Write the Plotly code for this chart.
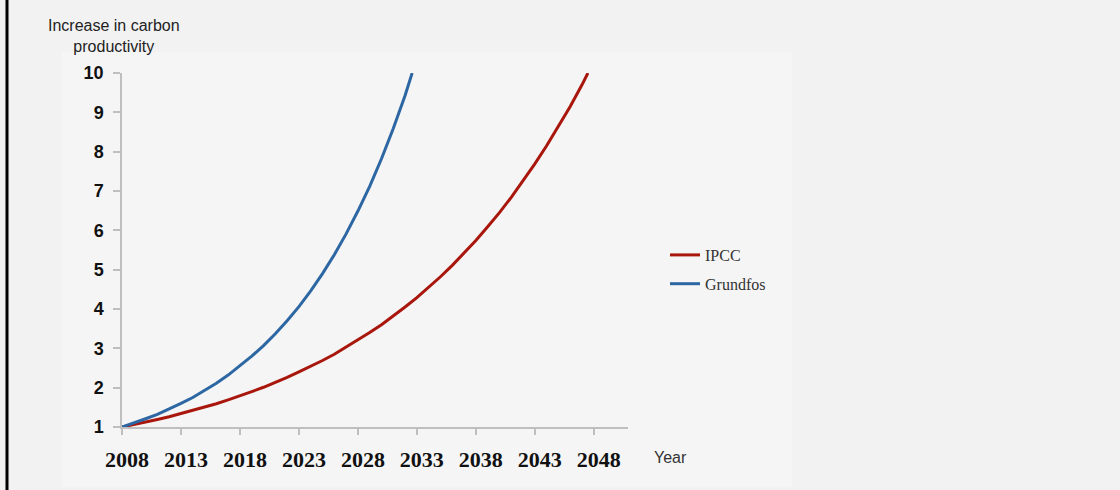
import plotly.graph_objects as go

# Data
years_grundfos = [2008, 2009, 2010, 2011, 2012, 2013, 2014, 2015, 2016, 2017, 2018, 2019, 2020,
                  2021, 2022, 2023, 2024, 2025, 2026, 2027, 2028, 2029, 2030, 2031, 2032, 2032.6]
grundfos = [1.00, 1.10, 1.21, 1.32, 1.45, 1.60, 1.75, 1.92, 2.11, 2.32, 2.55, 2.80, 3.07,
            3.37, 3.70, 4.06, 4.46, 4.90, 5.38, 5.91, 6.49, 7.12, 7.82, 8.59, 9.43, 10.0]

years_ipcc = [2008, 2009, 2010, 2011, 2012, 2013, 2014, 2015, 2016, 2017, 2018, 2019, 2020,
              2021, 2022, 2023, 2024, 2025, 2026, 2027, 2028, 2029, 2030, 2031, 2032, 2033,
              2034, 2035, 2036, 2037, 2038, 2039, 2040, 2041, 2042, 2043, 2044, 2045, 2046,
              2047, 2047.5]
ipcc = [1.00, 1.06, 1.12, 1.19, 1.26, 1.34, 1.42, 1.50, 1.59, 1.69, 1.79, 1.90, 2.01,
        2.13, 2.26, 2.40, 2.54, 2.69, 2.85, 3.03, 3.21, 3.40, 3.60, 3.82, 4.05, 4.29,
        4.55, 4.82, 5.11, 5.42, 5.74, 6.09, 6.45, 6.84, 7.25, 7.69, 8.15, 8.64, 9.15,
        9.70, 10.0]

x_ticks = [2008, 2013, 2018, 2023, 2028, 2033, 2038, 2043, 2048]
y_ticks = [1, 2, 3, 4, 5, 6, 7, 8, 9, 10]

W, H = 1120, 490
L, R, T, B = 122, 492, 73, 63
PW, PH = W - L - R, H - T - B


def px_x(p):
    return (p - L) / PW


def px_y(p):
    return (H - B - p) / PH


fig = go.Figure()
fig.add_trace(go.Scatter(x=years_ipcc, y=ipcc, mode="lines", name="IPCC", legendgroup="ipcc",
                         line=dict(color="#a8160c", width=3)))
fig.add_trace(go.Scatter(x=years_grundfos, y=grundfos, mode="lines", name="Grundfos",
                         legendgroup="grundfos", line=dict(color="#2d67a3", width=3)))

fig.update_layout(
    width=W, height=H, autosize=False,
    margin=dict(l=L, r=R, t=T, b=B),
    paper_bgcolor="#f2f2f2",
    plot_bgcolor="rgba(0,0,0,0)",
    showlegend=True,
    legend=dict(xref="container", yref="container", x=665 / W, y=1 - 238 / H,
                xanchor="left", yanchor="top", bgcolor="rgba(0,0,0,0)",
                font=dict(family="Liberation Serif", size=16, color="#333333"),
                tracegroupgap=5),
    xaxis=dict(range=[2008, 2050.9], tickvals=x_ticks, ticktext=[str(t) for t in x_ticks],
               showgrid=False, zeroline=False, showline=True, linecolor="#bfbfbf",
               linewidth=1.5, ticks="outside", ticklen=6, tickcolor="#bfbfbf", tickwidth=1.5,
               ticklabelshift=5, ticklabelstandoff=6,
               tickfont=dict(family="Liberation Serif", size=22, color="#111111",
                             weight="bold")),
    yaxis=dict(range=[1, 10], tickvals=y_ticks, showgrid=False, zeroline=False,
               showline=True, linecolor="#bfbfbf", linewidth=1.5, ticks="outside",
               ticklen=7, tickcolor="#bfbfbf", tickwidth=1.5, ticklabelstandoff=6,
               tickfont=dict(family="Liberation Sans", size=18, color="#111111",
                             weight="bold")),
    shapes=[
        dict(type="rect", xref="paper", yref="paper", x0=px_x(62), x1=px_x(792),
             y0=px_y(487), y1=px_y(52), fillcolor="#f5f5f5", line=dict(width=0),
             layer="below"),
        dict(type="line", xref="paper", yref="paper", x0=px_x(7), x1=px_x(7),
             y0=px_y(H + 2), y1=px_y(-2), line=dict(color="#000000", width=3)),
    ],
    annotations=[
        dict(xref="paper", yref="paper", x=px_x(114), y=px_y(36.5), xanchor="center",
             yanchor="middle", showarrow=False, align="center",
             text="Increase in carbon<br>productivity",
             font=dict(family="Liberation Sans", size=16, color="#222222")),
        dict(xref="paper", yref="paper", x=px_x(670), y=px_y(457), xanchor="center",
             yanchor="middle", showarrow=False, text="Year",
             font=dict(family="Liberation Sans", size=16, color="#333333")),
    ],
)

fig.write_html(
    "out.html",
    config={"displayModeBar": False},
    post_script="document.body.style.margin='0';document.body.style.background='#f2f2f2';",
)
